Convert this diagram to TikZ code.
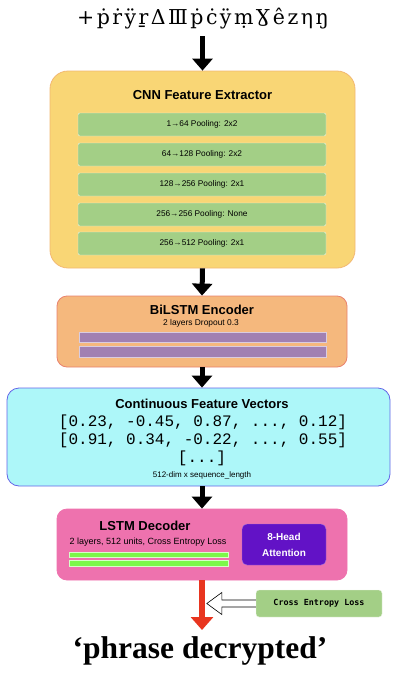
\documentclass[tikz,border=0pt]{standalone}
\usepackage{fontspec}
\setmainfont{Liberation Sans}
\newfontfamily\cipherfont[LetterSpace=12]{DejaVu Serif}
\newfontfamily\vecfont{Liberation Mono}
\newfontfamily\lossfont{DejaVu Sans Mono}
\newfontfamily\outfont{Liberation Serif}
\usepackage{tikz}
\usetikzlibrary{arrows.meta,positioning,calc}
\definecolor{cnnYel}{RGB}{249,214,117}
\definecolor{cnnEdge}{RGB}{242,184,114}
\definecolor{layGrn}{RGB}{163,207,134}
\definecolor{encOra}{RGB}{245,184,125}
\definecolor{encEdge}{RGB}{233,130,110}
\definecolor{encPur}{RGB}{161,128,178}
\definecolor{vecCyan}{RGB}{173,247,249}
\definecolor{vecEdge}{RGB}{100,100,232}
\definecolor{decPink}{RGB}{238,114,174}
\definecolor{decGrn}{RGB}{124,247,74}
\definecolor{attPur}{RGB}{98,18,198}
\definecolor{outRed}{RGB}{232,53,31}

\begin{document}
\begin{tikzpicture}[x=1pt,y=-1pt,
  big/.style={rounded corners=#1,line width=0.8pt,inner sep=0pt},
  layer/.style={draw=white!80!layGrn,fill=layGrn,rounded corners=2pt,minimum width=248pt,minimum height=23pt,font=\fontsize{8.3}{10}\selectfont,inner sep=0pt},
  bar/.style={fill=encPur,draw=white!60!encPur,line width=0.4pt,inner sep=0pt,minimum width=247pt},
  gbar/.style={fill=decGrn,draw=white!70!decGrn,line width=0.4pt,inner sep=0pt,minimum width=159pt},
  flow/.style={line width=5pt,-{Triangle[width=20pt,length=12pt]}},
  hd/.style={font=\fontsize{13}{15}\bfseries\selectfont}]
  \useasboundingbox (0,0) rectangle (393,673);
  % input line
  \node[font=\cipherfont\fontsize{20.5}{22}\selectfont] (inp) at (203,19) {+ṗṙÿṟΔⅢṗċÿṃƔêzηŋ};
  % CNN block
  \node[big=18pt,draw=cnnEdge,fill=cnnYel,minimum width=305pt,minimum height=197pt] (cnn) at (202.5,169.5) {};
  \node[hd] (cnnt) at (202.5,95) {CNN Feature Extractor};
  \node[layer] (l1) at (202,124.5) {1→64 Pooling: 2x2};
  \node[layer] (l2) at (202,154.5) {64→128 Pooling: 2x2};
  \node[layer] (l3) at (202,184.5) {128→256 Pooling: 2x1};
  \node[layer] (l4) at (202,214.5) {256→256 Pooling: None};
  \node[layer] (l5) at (202,243.5) {256→512 Pooling: 2x1};
  % encoder
  \node[big=10pt,draw=encEdge,fill=encOra,minimum width=290pt,minimum height=71pt] (enc) at (202,331.5) {};
  \node[hd] (enct) at (202,309.5) {BiLSTM Encoder};
  \node[font=\fontsize{8.4}{10}\selectfont] (encs) at (201,323.5) {2 layers Dropout 0.3};
  \node[bar,minimum height=10pt] (b1) at (202.5,337) {};
  \node[bar,minimum height=11pt] (b2) at (202.5,351.5) {};
  % feature vectors
  \node[big=12pt,draw=vecEdge,fill=vecCyan,minimum width=383pt,minimum height=98pt] (vec) at (198.5,437) {};
  \node[font=\fontsize{13}{15}\bfseries\selectfont] (vect) at (202,403.5) {Continuous Feature Vectors};
  \node[font=\vecfont\fontsize{16}{18}\selectfont] (v1) at (203,422) {[0.23, -0.45, 0.87, ..., 0.12]};
  \node[font=\vecfont\fontsize{16}{18}\selectfont] (v2) at (203,440) {[0.91, 0.34, -0.22, ..., 0.55]};
  \node[font=\vecfont\fontsize{16}{18}\selectfont] (v3) at (202,458) {[...]};
  \node[font=\fontsize{8}{9}\selectfont] (vecs) at (202,475) {512-dim x sequence\_length};
  % decoder
  \node[big=10pt,draw=decPink,fill=decPink,minimum width=290pt,minimum height=71pt] (dec) at (202,544.5) {};
  \node[hd] (dect) at (145,526) {LSTM Decoder};
  \node[font=\fontsize{9}{10}\selectfont] (decs) at (148,542) {2 layers, 512 units, Cross Entropy Loss};
  \node[gbar,minimum height=5pt] (g1) at (148.5,554.5) {};
  \node[gbar,minimum height=6pt] (g2) at (148.5,563) {};
  \node[draw=attPur!60!white,fill=attPur,rounded corners=5pt,minimum width=84pt,minimum height=41pt,inner sep=0pt,align=center,text=white,font=\fontsize{10}{16}\bfseries\selectfont] (att) at (284,544.5) {8-Head\\Attention};
  % loss and output
  \node[fill=layGrn,draw=white!80!layGrn,rounded corners=3pt,minimum width=126pt,minimum height=27pt,inner sep=0pt,font=\lossfont\fontsize{8.4}{10}\bfseries\selectfont] (loss) at (319,603.5) {Cross Entropy Loss};
  \node[font=\outfont\fontsize{31.5}{34}\bfseries\selectfont] (out) at (200,651) {‘phrase decrypted’};
  \coordinate (tip) at (202,630);
  % arrows
  \draw[flow] (inp.south -| cnn.north) ++(0,3) -- (cnn.north);
  \draw[flow] (cnn.south) -- (enc.north);
  \draw[flow] (enc.south) -- (vec.north -| enc.south);
  \draw[flow] (vec.south -| dec.north) -- (dec.north);
  \draw[outRed,line width=6pt,-{Triangle[width=22pt,length=13pt]}] (dec.south) -- (tip);
  \draw[fill=white,line width=0.6pt] (loss.west) ++(0,-3.5) -- ++(-34,0) -- ++(0,-7.5) -- ++(-15,11) -- ++(15,11) -- ++(0,-7.5) -- ++(34,0);
\end{tikzpicture}
\end{document}
